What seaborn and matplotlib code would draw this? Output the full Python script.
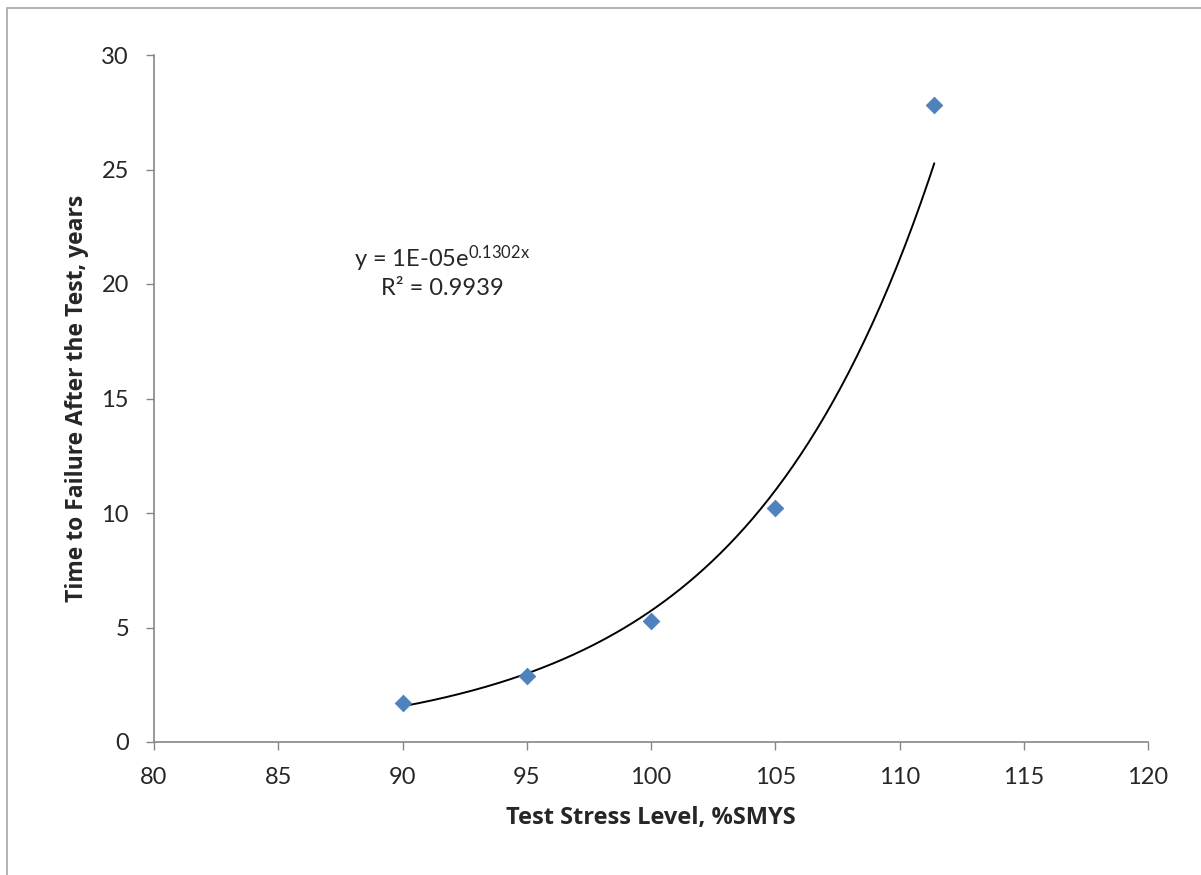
import numpy as np
import pandas as pd
import matplotlib
matplotlib.use("Agg")
import matplotlib.pyplot as plt
import seaborn as sns

# data
stress = [90, 95, 100, 105, 111.4]
years = [1.7, 2.9, 5.3, 10.2, 27.8]

x_ticks = [80, 85, 90, 95, 100, 105, 110, 115, 120]
y_ticks = [0, 5, 10, 15, 20, 25, 30]

sns.set_style("white")
plt.rcParams['font.family'] = ['Lato', 'DejaVu Sans']
plt.rcParams['mathtext.fontset'] = 'custom'
plt.rcParams['mathtext.rm'] = 'Lato'
plt.rcParams['mathtext.default'] = 'regular'

df = pd.DataFrame({'stress': stress, 'years': years})

# exponential trendline (Excel style: fit on log y)
b, ln_a = np.polyfit(df['stress'], np.log(df['years']), 1)
fx = np.linspace(min(stress), max(stress), 200)
fit = pd.DataFrame({'stress': fx, 'years': np.exp(ln_a) * np.exp(b * fx)})

fig = plt.figure(figsize=(12.01, 8.75), dpi=100)
# chart area border (cut at right / bottom like the reference)
fig.patches.append(plt.Rectangle((7 / 1201, -0.1), 1.2, 0.1 + 1 - 8 / 875,
                                 transform=fig.transFigure, fill=False,
                                 edgecolor='#a6a6a6', linewidth=1.2))

ax = fig.add_axes([154 / 1201, 1 - 742 / 875, 994 / 1201, 687 / 875])

sns.lineplot(data=fit, x='stress', y='years', ax=ax, color='black', linewidth=1.4)
sns.scatterplot(data=df, x='stress', y='years', ax=ax, marker='D', s=70,
                color='#4f81bd', edgecolor='#4f81bd', zorder=3)

ax.set_xlim(80, 120)
ax.set_ylim(0, 30)
ax.set_xticks(x_ticks)
ax.set_yticks(y_ticks)
ax.tick_params(axis='both', direction='out', length=6, width=1, color='#868686',
               labelsize=17, pad=12, left=True, bottom=True)

for side in ['top', 'right']:
    ax.spines[side].set_visible(False)
for side in ['left', 'bottom']:
    ax.spines[side].set_color('#868686')
    ax.spines[side].set_linewidth(1.2)

ax.set_xlabel('Test Stress Level, %SMYS', fontsize=17, fontweight='bold',
              family=['Open Sans', 'DejaVu Sans'], labelpad=13)
ax.set_ylabel('Time to Failure After the Test, years', fontsize=16.5, fontweight='bold',
              family=['Open Sans', 'DejaVu Sans'], labelpad=9)

ax.text(91.6, 21.1, 'y = 1E-05e$^{0.1302x}$', fontsize=17, ha='center', va='center')
ax.text(91.6, 19.8, 'R² = 0.9939', fontsize=17, ha='center', va='center')

fig.savefig('out.png', dpi=100)
